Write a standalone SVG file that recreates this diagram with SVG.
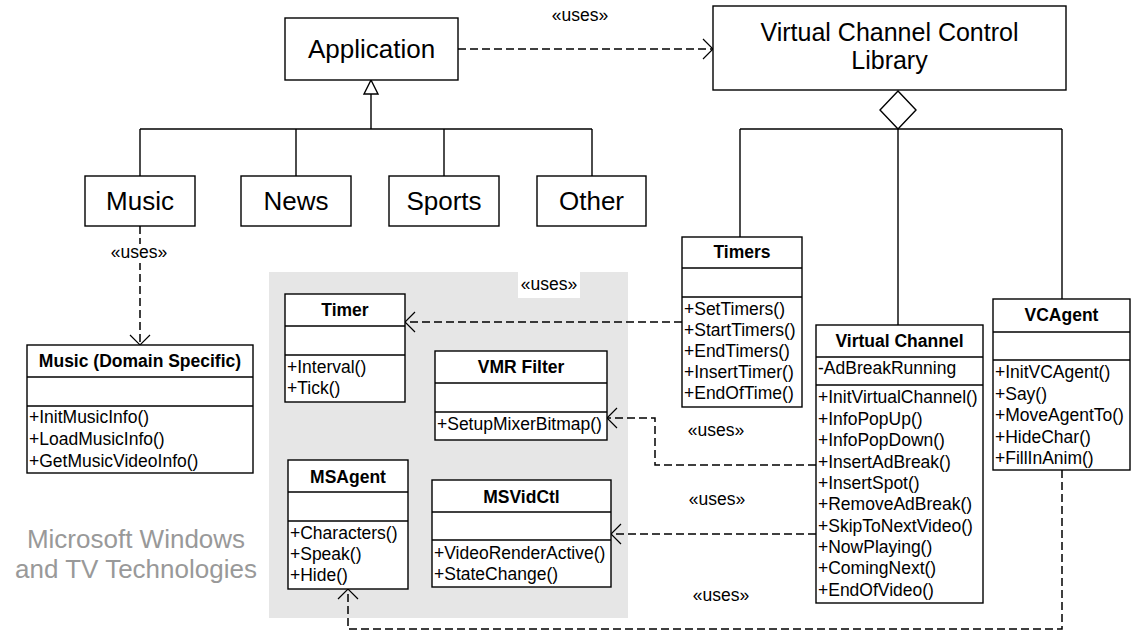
<svg xmlns="http://www.w3.org/2000/svg" width="1132" height="634" viewBox="0 0 1132 634">
<defs>
<style>
.box{fill:#fff;stroke:#000;stroke-width:1.4}
.ln{fill:none;stroke:#000;stroke-width:1.4}
.dash{fill:none;stroke:#000;stroke-width:1.5;stroke-dasharray:8 4}
text{font-family:"Liberation Sans",Arial,Helvetica,sans-serif;fill:#000}
.s{font-size:17.5px}
.b{font-size:17.5px;font-weight:bold;text-anchor:middle}
.big{font-size:26px;text-anchor:middle}
.big2{font-size:25px;text-anchor:middle}
.lbl{font-size:17.5px;text-anchor:middle}
.grey{font-size:26px;text-anchor:middle;fill:#999}
</style>
<marker id="open" markerUnits="userSpaceOnUse" markerWidth="24" markerHeight="24" viewBox="-12 -12 24 24" refX="0" refY="0" orient="auto">
<path d="M-10,-10 L0,0 L-10,10" fill="none" stroke="#000" stroke-width="1.2" stroke-dasharray="none"/>
</marker>
</defs>
<rect x="0" y="0" width="1132" height="634" fill="#fff"/>
<rect id="ms-area" x="269" y="272" width="359" height="346" fill="#e6e6e6"/>
<g id="ms-label">
<text class="grey" x="136" y="548">Microsoft Windows</text>
<text class="grey" x="136" y="578">and TV Technologies</text>
</g>

<g id="connectors">
<line class="ln" x1="371" y1="94" x2="371" y2="129"/>
<line class="ln" x1="140" y1="129" x2="592" y2="129"/>
<line class="ln" x1="140" y1="129" x2="140" y2="176"/>
<line class="ln" x1="296" y1="129" x2="296" y2="176"/>
<line class="ln" x1="444" y1="129" x2="444" y2="176"/>
<line class="ln" x1="592" y1="129" x2="592" y2="176"/>
<polygon points="371,80 364,94 378,94" fill="#fff" stroke="#000" stroke-width="1.4"/>
<line class="ln" x1="740" y1="129" x2="1062" y2="129"/>
<line class="ln" x1="740" y1="129" x2="740" y2="237"/>
<line class="ln" x1="898" y1="129" x2="898" y2="325"/>
<line class="ln" x1="1062" y1="129" x2="1062" y2="299"/>
<polygon points="898,91 916,110 898,129 880,110" fill="#fff" stroke="#000" stroke-width="1.4"/>
<path class="dash" d="M458,49 H713" marker-end="url(#open)"/>
<path class="dash" d="M140,226 V345" marker-end="url(#open)"/>
<path class="dash" d="M682,322 H405" marker-end="url(#open)"/>
<path class="dash" d="M816,465 H655 V418 H607" marker-end="url(#open)"/>
<path class="dash" d="M816,534 H611" marker-end="url(#open)"/>
<path class="dash" d="M1062,470 V629 H348 V589" marker-end="url(#open)"/>
<text class="lbl" x="580" y="21">«uses»</text>
<rect x="110" y="244" width="58" height="19" fill="#fff"/>
<text class="lbl" x="139" y="258">«uses»</text>
<rect x="518" y="272" width="62" height="26" fill="#fff"/>
<text class="lbl" x="549" y="290">«uses»</text>
<text class="lbl" x="716" y="436">«uses»</text>
<text class="lbl" x="717" y="505">«uses»</text>
<text class="lbl" x="721" y="601">«uses»</text>
</g>

<g id="application">
<rect class="box" x="285" y="18" width="173" height="62"/>
<text class="big" x="371.5" y="58">Application</text>
</g>
<g id="vccl">
<rect class="box" x="713" y="6" width="353" height="84"/>
<text class="big2" x="889.5" y="41">Virtual Channel Control</text>
<text class="big2" x="889.5" y="69">Library</text>
</g>
<g id="music">
<rect class="box" x="85" y="176" width="110" height="50"/>
<text class="big" x="140" y="210">Music</text>
</g>
<g id="news">
<rect class="box" x="241" y="176" width="110" height="50"/>
<text class="big" x="296" y="210">News</text>
</g>
<g id="sports">
<rect class="box" x="389" y="176" width="110" height="50"/>
<text class="big" x="444" y="210">Sports</text>
</g>
<g id="other">
<rect class="box" x="537" y="176" width="109" height="50"/>
<text class="big" x="591.5" y="210">Other</text>
</g>

<g id="music-domain">
<rect class="box" x="27" y="345" width="226" height="128"/>
<line class="ln" x1="27" y1="377" x2="253" y2="377"/>
<line class="ln" x1="27" y1="406" x2="253" y2="406"/>
<text class="b" x="140" y="367">Music (Domain Specific)</text>
<text class="s" x="29" y="423">+InitMusicInfo()</text>
<text class="s" x="29" y="445">+LoadMusicInfo()</text>
<text class="s" x="29" y="467">+GetMusicVideoInfo()</text>
</g>

<g id="timer">
<rect class="box" x="285" y="294" width="120" height="108"/>
<line class="ln" x1="285" y1="326" x2="405" y2="326"/>
<line class="ln" x1="285" y1="355" x2="405" y2="355"/>
<text class="b" x="345" y="316">Timer</text>
<text class="s" x="287" y="373">+Interval()</text>
<text class="s" x="287" y="394">+Tick()</text>
</g>

<g id="vmr-filter">
<rect class="box" x="435" y="351" width="172" height="89"/>
<line class="ln" x1="435" y1="383" x2="607" y2="383"/>
<line class="ln" x1="435" y1="412" x2="607" y2="412"/>
<text class="b" x="521" y="373">VMR Filter</text>
<text class="s" x="437" y="430">+SetupMixerBitmap()</text>
</g>

<g id="msagent">
<rect class="box" x="288" y="460" width="120" height="129"/>
<line class="ln" x1="288" y1="492" x2="408" y2="492"/>
<line class="ln" x1="288" y1="521" x2="408" y2="521"/>
<text class="b" x="348" y="483">MSAgent</text>
<text class="s" x="290" y="539">+Characters()</text>
<text class="s" x="290" y="560">+Speak()</text>
<text class="s" x="290" y="581">+Hide()</text>
</g>

<g id="msvidctl">
<rect class="box" x="432" y="480" width="179" height="107"/>
<line class="ln" x1="432" y1="512" x2="611" y2="512"/>
<line class="ln" x1="432" y1="540" x2="611" y2="540"/>
<text class="b" x="521.5" y="503">MSVidCtl</text>
<text class="s" x="434" y="559">+VideoRenderActive()</text>
<text class="s" x="434" y="580">+StateChange()</text>
</g>

<g id="timers">
<rect class="box" x="682" y="237" width="120" height="170"/>
<line class="ln" x1="682" y1="268" x2="802" y2="268"/>
<line class="ln" x1="682" y1="297" x2="802" y2="297"/>
<text class="b" x="742" y="258">Timers</text>
<text class="s" x="684" y="315">+SetTimers()</text>
<text class="s" x="684" y="336">+StartTimers()</text>
<text class="s" x="684" y="357">+EndTimers()</text>
<text class="s" x="684" y="378">+InsertTimer()</text>
<text class="s" x="684" y="399">+EndOfTime()</text>
</g>

<g id="virtual-channel">
<rect class="box" x="816" y="325" width="167" height="278"/>
<line class="ln" x1="816" y1="357" x2="983" y2="357"/>
<line class="ln" x1="816" y1="385" x2="983" y2="385"/>
<text class="b" x="899.5" y="347">Virtual Channel</text>
<text class="s" x="818" y="374">-AdBreakRunning</text>
<text class="s" x="818" y="403">+InitVirtualChannel()</text>
<text class="s" x="818" y="424.5">+InfoPopUp()</text>
<text class="s" x="818" y="446">+InfoPopDown()</text>
<text class="s" x="818" y="467.5">+InsertAdBreak()</text>
<text class="s" x="818" y="489">+InsertSpot()</text>
<text class="s" x="818" y="510">+RemoveAdBreak()</text>
<text class="s" x="818" y="531.5">+SkipToNextVideo()</text>
<text class="s" x="818" y="553">+NowPlaying()</text>
<text class="s" x="818" y="574">+ComingNext()</text>
<text class="s" x="818" y="595.5">+EndOfVideo()</text>
</g>

<g id="vcagent">
<rect class="box" x="993" y="299" width="137" height="171"/>
<line class="ln" x1="993" y1="332" x2="1130" y2="332"/>
<line class="ln" x1="993" y1="360" x2="1130" y2="360"/>
<text class="b" x="1061.5" y="321">VCAgent</text>
<text class="s" x="995" y="378">+InitVCAgent()</text>
<text class="s" x="995" y="399.5">+Say()</text>
<text class="s" x="995" y="421">+MoveAgentTo()</text>
<text class="s" x="995" y="442.5">+HideChar()</text>
<text class="s" x="995" y="464">+FillInAnim()</text>
</g>
</svg>
